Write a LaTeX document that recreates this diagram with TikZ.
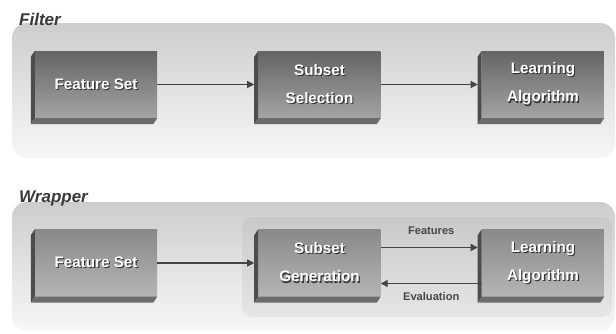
\documentclass[tikz,border=0pt]{standalone}
\usepackage{fontspec}
\setmainfont{Liberation Sans}
\usepackage{tikz}
\usetikzlibrary{arrows.meta}
\usetikzlibrary{positioning,calc}

\definecolor{panelTop}{HTML}{CDCDCD}
\definecolor{panelBot}{HTML}{F7F7F7}
\definecolor{innerTop}{HTML}{C9C9C9}
\definecolor{innerBot}{HTML}{E6E6E6}
\definecolor{boxTopA}{HTML}{646464}
\definecolor{boxBotA}{HTML}{A4A4A4}
\definecolor{boxTopB}{HTML}{898989}
\definecolor{boxBotB}{HTML}{B5B5B5}
\definecolor{bevelL}{HTML}{4C4C4C}
\definecolor{bevelB}{HTML}{6C6C6C}
\definecolor{arrowGray}{HTML}{444444}

\newcommand{\shd}[1]{\makebox[0pt][l]{\hspace{1pt}\raisebox{-1pt}{\color{black!80}#1}}#1}

\begin{document}
\begin{tikzpicture}[x=0.03cm, y=-0.03cm, auto]
    \tikzstyle{block} = [rectangle, minimum width=3.66cm, minimum height=2.01cm, inner sep=0pt, text=white, align=center, font={\bfseries\fontsize{13}{24}\selectfont}];
    \tikzstyle{filterbox} = [block, top color=boxTopA, bottom color=boxBotA];
    \tikzstyle{wrapbox} = [block, top color=boxTopB, bottom color=boxBotB];
    \tikzstyle{panel} = [rounded corners=0.45cm, top color=panelTop, bottom color=panelBot];
    \tikzstyle{title} = [anchor=base west, inner sep=0pt, text=black!78, font={\bfseries\itshape\fontsize{14.5}{16}\selectfont}];
    \tikzstyle{tag} = [inner sep=1pt, text=black!72, font={\bfseries\fontsize{9.5}{10}\selectfont}];
    \tikzstyle{line} = [draw=arrowGray, line width=0.8pt, -{Triangle[length=6pt,width=6pt]}];
    \useasboundingbox (0,0) rectangle (616,333);
    % background panels
    \path[panel] (12,23) rectangle (615,158);
    \path[panel] (12,202) rectangle (615,331);
    \path[panel, top color=innerTop, bottom color=innerBot, rounded corners=0.3cm] (242,217) rectangle (612,317);
    \node[title] (filter) at (19,25) {Filter};
    \node[title] (wrapper) at (19,202) {Wrapper};
    % filter row
    \node[filterbox] (fs1) at (96,84.5) {\shd{Feature Set}};
    \node[filterbox, right=3.03cm of fs1] (ss) {\shd{Subset}\\\shd{Selection}};
    \node[filterbox, right=3.03cm of ss] (la1) {\shd{Learning}\\\shd{Algorithm}};
    % wrapper row
    \node[wrapbox, below=3.33cm of fs1] (fs2) {\shd{Feature Set}};
    \node[wrapbox, right=3.03cm of fs2] (sg) {\shd{Subset}\\\shd{Generation}};
    \node[wrapbox, right=3.03cm of sg] (la2) {\shd{Learning}\\\shd{Algorithm}};
    \foreach \b in {fs1,ss,la1,fs2,sg,la2} {
        \fill[bevelL] (\b.north west) -- ++(-4,6) -- ($(\b.south west)+(-4,6)$) -- (\b.south west) -- cycle;
        \fill[bevelB] (\b.south west) -- (\b.south east) -- ++(-4,6) -- ($(\b.south west)+(-4,6)$) -- cycle;
    }
    \path[line, shorten >=0.12cm] (fs1) -- (ss);
    \path[line, shorten >=0.12cm] (ss) -- (la1);
    \path[line, line width=1.2pt, shorten >=0.12cm] (fs2) -- (sg);
    \path[line, line width=1.2pt, shorten >=0.12cm] ($(sg.east)+(0,-15.5)$) -- node[tag, above=9pt] {Features} ($(la2.west)+(0,-15.5)$);
    \path[line, line width=1.2pt] ($(la2.west)+(0,20.5)$) -- node[tag, below=6pt] {Evaluation} ($(sg.east)+(0,20.5)$);
\end{tikzpicture}
\end{document}
